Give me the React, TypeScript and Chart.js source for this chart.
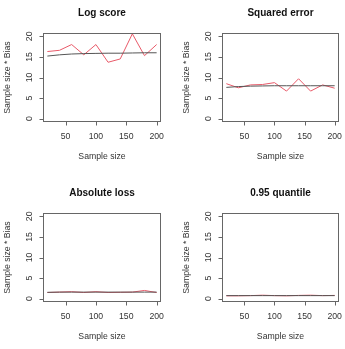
import React, { useEffect, useRef } from "react";
import { Chart, registerables } from "chart.js";

Chart.register(...registerables);

// Sample sizes on the x axis
const sampleSizes = [20, 40, 60, 80, 100, 120, 140, 160, 180, 200];

// Sample size * bias, simulated (red) and asymptotic (black), per scoring rule
const logScoreSim = [16.3, 16.6, 18.0, 15.5, 18.0, 13.7, 14.5, 20.6, 15.3, 18.0];
const logScoreAsym = [15.2, 15.5, 15.7, 15.8, 15.85, 15.9, 15.9, 15.95, 16.0, 16.0];

const squaredErrorSim = [8.5, 7.5, 8.2, 8.3, 8.75, 6.7, 9.7, 6.7, 8.2, 7.4];
const squaredErrorAsym = [7.6, 7.8, 7.9, 7.95, 8.0, 8.0, 8.0, 8.0, 8.0, 8.0];

const absoluteLossSim = [1.5, 1.6, 1.7, 1.5, 1.7, 1.5, 1.55, 1.6, 2.0, 1.5];
const absoluteLossAsym = [1.55, 1.6, 1.6, 1.6, 1.6, 1.6, 1.6, 1.6, 1.6, 1.6];

const quantileSim = [0.7, 0.7, 0.75, 0.85, 0.75, 0.7, 0.8, 0.85, 0.75, 0.8];
const quantileAsym = [0.75, 0.75, 0.75, 0.75, 0.75, 0.75, 0.75, 0.75, 0.75, 0.75];

// Axis ticks
const xTicks = [50, 100, 150, 200];
const yTicks = [0, 5, 10, 15, 20];

const panelTitles = ["Log score", "Squared error", "Absolute loss", "0.95 quantile"];
const xLabel = "Sample size";
const yLabel = "Sample size * Bias";

const FONT = '"Liberation Sans", Arial, Helvetica, sans-serif';
const LABEL_PX = 8.7;
const TITLE_PX = 10;

type Panel = {
  title: string;
  sim: number[];
  asym: number[];
  left: number;
  top: number;
  width: number;
  height: number;
  pad: { left: number; right: number; top: number; bottom: number };
};

const panels: Panel[] = [
  { title: panelTitles[0], sim: logScoreSim, asym: logScoreAsym, left: 0, top: 0, width: 172, height: 175, pad: { left: 43, right: 11, top: 33, bottom: 53 } },
  { title: panelTitles[1], sim: squaredErrorSim, asym: squaredErrorAsym, left: 172, top: 0, width: 173, height: 175, pad: { left: 50, right: 6, top: 33, bottom: 53 } },
  { title: panelTitles[2], sim: absoluteLossSim, asym: absoluteLossAsym, left: 0, top: 175, width: 172, height: 174, pad: { left: 43, right: 11, top: 38, bottom: 47 } },
  { title: panelTitles[3], sim: quantileSim, asym: quantileAsym, left: 172, top: 175, width: 173, height: 174, pad: { left: 50, right: 6, top: 38, bottom: 47 } },
];

// Base-graphics style frame: box, outward ticks, rotated y labels, titles
const baseAxes = {
  id: "baseAxes",
  afterDraw(chart: any, _args: any, opts: any) {
    const { ctx, chartArea: a, scales } = chart;
    const xs = scales.x;
    const ys = scales.y;
    const tick = 4;
    const L = Math.round(a.left) + 0.5;
    const R = Math.round(a.right) - 0.5;
    const T = Math.round(a.top) + 0.5;
    const B = Math.round(a.bottom) - 0.5;

    ctx.save();
    ctx.strokeStyle = "#666";
    ctx.lineWidth = 1;
    ctx.strokeRect(L, T, R - L, B - T);

    // x axis ticks
    ctx.beginPath();
    for (const v of xTicks) {
      const px = Math.round(xs.getPixelForValue(v)) + 0.5;
      ctx.moveTo(px, B);
      ctx.lineTo(px, B + tick);
    }
    // y axis ticks
    for (const v of yTicks) {
      const py = Math.round(ys.getPixelForValue(v)) + 0.5;
      ctx.moveTo(L, py);
      ctx.lineTo(L - tick, py);
    }
    ctx.stroke();

    ctx.fillStyle = "#333";
    ctx.font = `${LABEL_PX}px ${FONT}`;
    ctx.textAlign = "center";
    ctx.textBaseline = "middle";
    for (const v of xTicks) {
      ctx.fillText(String(v), xs.getPixelForValue(v), a.bottom + 15);
    }
    ctx.fillText(xLabel, (a.left + a.right) / 2, a.bottom + 34.5);

    for (const v of yTicks) {
      ctx.save();
      ctx.translate(a.left - 13.4, ys.getPixelForValue(v));
      ctx.rotate(-Math.PI / 2);
      ctx.fillText(String(v), 0, 0);
      ctx.restore();
    }
    ctx.save();
    ctx.translate(a.left - 35.4, (a.top + a.bottom) / 2);
    ctx.rotate(-Math.PI / 2);
    ctx.fillText(yLabel, 0, 0);
    ctx.restore();

    ctx.fillStyle = "#111";
    ctx.font = `bold ${TITLE_PX}px ${FONT}`;
    ctx.fillText(opts.title, (a.left + a.right) / 2, a.top - 20);
    ctx.restore();
  },
};

function PanelChart({ panel }: { panel: Panel }) {
  const ref = useRef<HTMLCanvasElement | null>(null);

  useEffect(() => {
    if (!ref.current) return;
    const chart = new Chart(ref.current, {
      type: "line",
      data: {
        datasets: [
          {
            data: sampleSizes.map((x, i) => ({ x, y: panel.asym[i] })),
            borderColor: "#555",
            borderWidth: 1,
            pointRadius: 0,
            tension: 0,
          },
          {
            data: sampleSizes.map((x, i) => ({ x, y: panel.sim[i] })),
            borderColor: "rgb(232, 90, 105)",
            borderWidth: 1,
            pointRadius: 0,
            tension: 0,
          },
        ],
      },
      options: {
        responsive: false,
        animation: false,
        layout: { padding: panel.pad },
        scales: {
          x: { type: "linear", min: 12.8, max: 207.2, display: false },
          y: { type: "linear", min: -0.8, max: 20.8, display: false },
        },
        plugins: {
          legend: { display: false },
          tooltip: { enabled: false },
          baseAxes: { title: panel.title },
        } as any,
      },
      plugins: [baseAxes],
    });
    return () => chart.destroy();
  }, [panel]);

  return (
    <canvas
      ref={ref}
      width={panel.width}
      height={panel.height}
      style={{
        position: "absolute",
        left: panel.left,
        top: panel.top,
        width: panel.width,
        height: panel.height,
      }}
    />
  );
}

export default function App() {
  return (
    <div
      style={{
        position: "fixed",
        left: 0,
        top: 0,
        width: 345,
        height: 349,
        background: "#fff",
      }}
    >
      {panels.map((p) => (
        <PanelChart key={p.title} panel={p} />
      ))}
    </div>
  );
}
